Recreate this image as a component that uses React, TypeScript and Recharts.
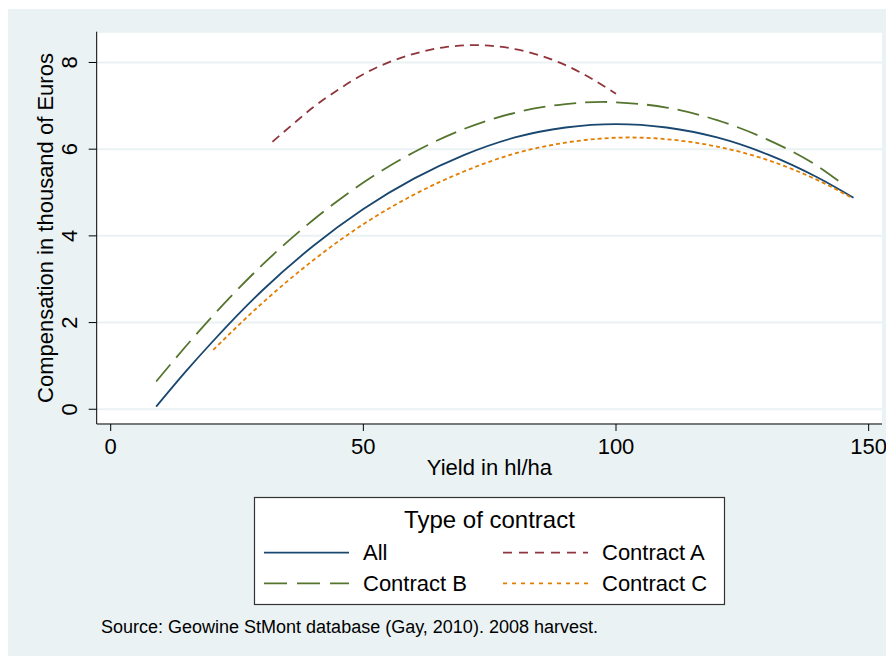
import React from "react";
import { LineChart, Line, XAxis, YAxis, CartesianGrid } from "recharts";

// ---- data ----
const allX = [9, 15, 20, 30, 40, 50, 60, 70, 80, 90, 100, 110, 120, 130, 140, 147];
const allY = [0.06, 0.89, 1.54, 2.74, 3.76, 4.62, 5.32, 5.87, 6.27, 6.5, 6.58, 6.5, 6.27, 5.88, 5.34, 4.88];

const aX = [32, 36, 40, 45, 50, 60, 66, 72, 80, 90, 100];
const aY = [6.17, 6.57, 6.96, 7.37, 7.73, 8.2, 8.35, 8.4, 8.31, 7.94, 7.28];

const bX = [9, 15, 20, 30, 40, 50, 60, 70, 80, 90, 97.5, 100, 110, 120, 130, 140, 144];
const bY = [0.64, 1.47, 2.13, 3.33, 4.36, 5.23, 5.93, 6.47, 6.84, 7.04, 7.09, 7.08, 6.96, 6.67, 6.22, 5.6, 5.27];

const cX = [20.3, 30, 40, 50, 60, 70, 80, 90, 102.8, 110, 120, 130, 140, 146.8];
const cY = [1.37, 2.45, 3.43, 4.27, 4.95, 5.49, 5.9, 6.15, 6.27, 6.23, 6.06, 5.75, 5.28, 4.87];

const xTicks = [0, 50, 100, 150];
const yTicks = [0, 2, 4, 6, 8];
const xDomain = [-2.77, 152.64];
const yDomain = [-0.34, 8.71];

const seriesNames = ["All", "Contract A", "Contract B", "Contract C"];
const seriesColors = ["#1a476f", "#90353b", "#55752f", "#e37e00"];
const seriesDash = ["", "9 6", "22 9", "4 3"];
const legendDash = ["", "9 7", "23 10", "4 5"];

const xTitle = "Yield in hl/ha";
const yTitle = "Compensation in thousand of Euros";
const legendTitle = "Type of contract";
const sourceNote = "Source: Geowine StMont database (Gay, 2010). 2008 harvest.";

const toPts = (xs: number[], ys: number[]) => xs.map((x, i) => ({ x, y: ys[i] }));
const seriesData = [toPts(allX, allY), toPts(aX, aY), toPts(bX, bY), toPts(cX, cY)];

const FONT = "'Liberation Sans', Arial, Helvetica, sans-serif";
const BG = "#eaf2f3";

const YTick = (props: any) => {
  const { x, y, payload } = props;
  const bx = x - 10;
  return (
    <text
      x={bx}
      y={y}
      transform={`rotate(-90 ${bx} ${y})`}
      textAnchor="middle"
      fontSize={22}
      fontFamily={FONT}
      fill="#000"
    >
      {payload.value}
    </text>
  );
};

export default function App() {
  // legend layout: [col, row]
  const legendPos = [
    [0, 0],
    [1, 0],
    [0, 1],
    [1, 1],
  ];
  return (
    <div
      style={{
        position: "relative",
        top: 1,
        width: 886,
        height: 648,
        background: BG,
        fontFamily: FONT,
      }}
    >
      <LineChart
        width={886}
        height={490}
        margin={{ top: 22.7, right: 12, bottom: 15, left: 0.7 }}
        style={{ position: "absolute", left: 0, top: 0 }}
      >
        <CartesianGrid vertical={false} stroke={BG} strokeWidth={2} fill="#ffffff" />
        <XAxis
          dataKey="x"
          type="number"
          domain={xDomain}
          ticks={xTicks}
          allowDataOverflow
          height={60}
          tickSize={7}
          tickMargin={7}
          axisLine={{ stroke: "#000", strokeWidth: 1 }}
          tickLine={{ stroke: "#000", strokeWidth: 1 }}
          tick={{ fontSize: 22, fill: "#000", fontFamily: FONT }}
        />
        <YAxis
          dataKey="y"
          type="number"
          domain={yDomain}
          ticks={yTicks}
          allowDataOverflow
          width={88}
          tickSize={8}
          tickMargin={2}
          axisLine={{ stroke: "#000", strokeWidth: 1 }}
          tickLine={{ stroke: "#000", strokeWidth: 1 }}
          tick={<YTick />}
        />
        {seriesData.map((d, i) => (
          <Line
            key={seriesNames[i]}
            data={d}
            dataKey="y"
            name={seriesNames[i]}
            type="monotone"
            stroke={seriesColors[i]}
            strokeWidth={1.8}
            strokeDasharray={seriesDash[i] || undefined}
            dot={false}
            activeDot={false}
            isAnimationActive={false}
          />
        ))}
      </LineChart>

      <svg
        width={886}
        height={648}
        style={{ position: "absolute", left: 0, top: 0, pointerEvents: "none" }}
        fontFamily={FONT}
      >
        <text
          x={45}
          y={219}
          transform="rotate(-90 45 219)"
          textAnchor="middle"
          fontSize={22}
          fill="#000"
        >
          {yTitle}
        </text>
        <text x={481.4} y={466} textAnchor="middle" fontSize={22} fill="#000">
          {xTitle}
        </text>

        <g transform="translate(246,488)">
          <rect x={0.5} y={0.5} width={470} height={107} fill="#fff" stroke="#333" strokeWidth={1.2} />
          <text x={235.5} y={22} textAnchor="middle" dominantBaseline="central" fontSize={24} fill="#000">
            {legendTitle}
          </text>
          {seriesNames.map((n, i) => {
            const [col, row] = legendPos[i];
            const lx = col === 0 ? 10 : 249;
            const ty = row === 0 ? 55.7 : 86.3;
            return (
              <g key={n}>
                <line
                  x1={lx}
                  x2={lx + 85}
                  y1={ty}
                  y2={ty}
                  stroke={seriesColors[i]}
                  strokeWidth={1.8}
                  strokeDasharray={legendDash[i] || undefined}
                />
                <text x={lx + 99} y={ty} dominantBaseline="central" fontSize={22} fill="#000">
                  {n}
                </text>
              </g>
            );
          })}
        </g>

        <text x={93} y={624} fontSize={18} fill="#000">
          {sourceNote}
        </text>
      </svg>
    </div>
  );
}
